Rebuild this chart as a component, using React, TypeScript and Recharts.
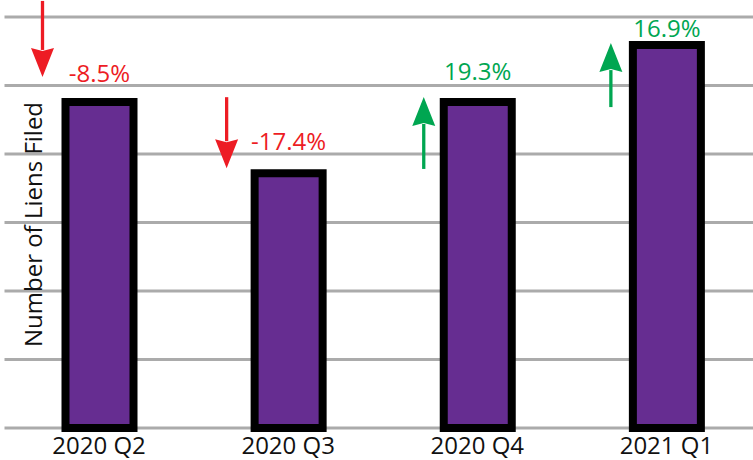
import React from 'react';
import { BarChart, Bar, XAxis, YAxis, CartesianGrid, LabelList } from 'recharts';

// ---- data ----
const categories = ['2020 Q2', '2020 Q3', '2020 Q4', '2021 Q1'];
const lienValues = [4.76, 3.72, 4.76, 5.59]; // relative height (grid units)
const changeLabels = ['-8.5%', '-17.4%', '19.3%', '16.9%'];
const yTicks = [0, 1, 2, 3, 4, 5, 6];
const yAxisTitle = 'Number of Liens Filed';

const data = categories.map((c, i) => ({ name: c, value: lienValues[i], change: changeLabels[i] }));

// ---- style ----
const FONT = '"Open Sans", "Noto Sans", sans-serif';
const RED = '#ED1C24';
const GREEN = '#00A651';
const PURPLE = '#662D91';

// per-bar annotation layout (offsets relative to bar rect)
const annot = [
  { textDy: -20, arrowDx: -23, tipDy: -25, len: 76 },
  { textDy: -23, arrowDx: -28, tipDy: -5, len: 71 },
  { textDy: -22, arrowDx: -20, tipDy: -5, len: 72 },
  { textDy: -8, arrowDx: -22, tipDy: -2, len: 64 },
];

const Annotation = (props: any) => {
  const { x, y, width, index } = props;
  const label = changeLabels[index];
  const up = !label.startsWith('-');
  const color = up ? GREEN : RED;
  const a = annot[index];
  const ax = x + a.arrowDx;
  const tip = y + a.tipDy;
  const headLen = 29;
  const headHalf = 11.5;
  let shaft: [number, number];
  let head: string;
  if (up) {
    shaft = [tip + headLen - 2, tip + a.len];
    head = `${ax},${tip} ${ax + headHalf},${tip + headLen} ${ax},${tip + headLen - 3} ${ax - headHalf},${tip + headLen}`;
  } else {
    shaft = [tip - a.len, tip - headLen + 2];
    head = `${ax},${tip} ${ax + headHalf},${tip - headLen} ${ax},${tip - headLen + 3} ${ax - headHalf},${tip - headLen}`;
  }
  return (
    <g>
      <line x1={ax} x2={ax} y1={shaft[0]} y2={shaft[1]} stroke={color} strokeWidth={3.3} />
      <polygon points={head} fill={color} />
      <text x={x + width / 2} y={y + a.textDy} textAnchor="middle" fill={color} fontSize={24} fontFamily={FONT}>
        {label}
      </text>
    </g>
  );
};

export default function App() {
  return (
    <div style={{ position: 'absolute', left: 0, top: 0, width: 753, height: 460, overflow: 'hidden', background: '#fff' }}>
      <BarChart width={761} height={460} data={data} margin={{ top: 17, right: 0, bottom: 0, left: 4.5 }}>
        <CartesianGrid vertical={false} stroke="#ABABAB" strokeWidth={3} />
        <XAxis
          dataKey="name"
          axisLine={false}
          tickLine={false}
          height={32}
          tickMargin={3}
          interval={0}
          tick={{ fontSize: 24, fill: '#111', fontFamily: FONT }}
        />
        <YAxis hide domain={[0, 6]} ticks={yTicks} />
        <Bar dataKey="value" barSize={68} fill={PURPLE} stroke="#000" strokeWidth={8} isAnimationActive={false}>
          <LabelList dataKey="change" content={Annotation} />
        </Bar>
        <text
          x={42}
          y={224.5}
          transform="rotate(-90 42 224.5)"
          textAnchor="middle"
          fontSize={24}
          fontFamily={FONT}
          fill="#111"
        >
          {yAxisTitle}
        </text>
      </BarChart>
    </div>
  );
}
